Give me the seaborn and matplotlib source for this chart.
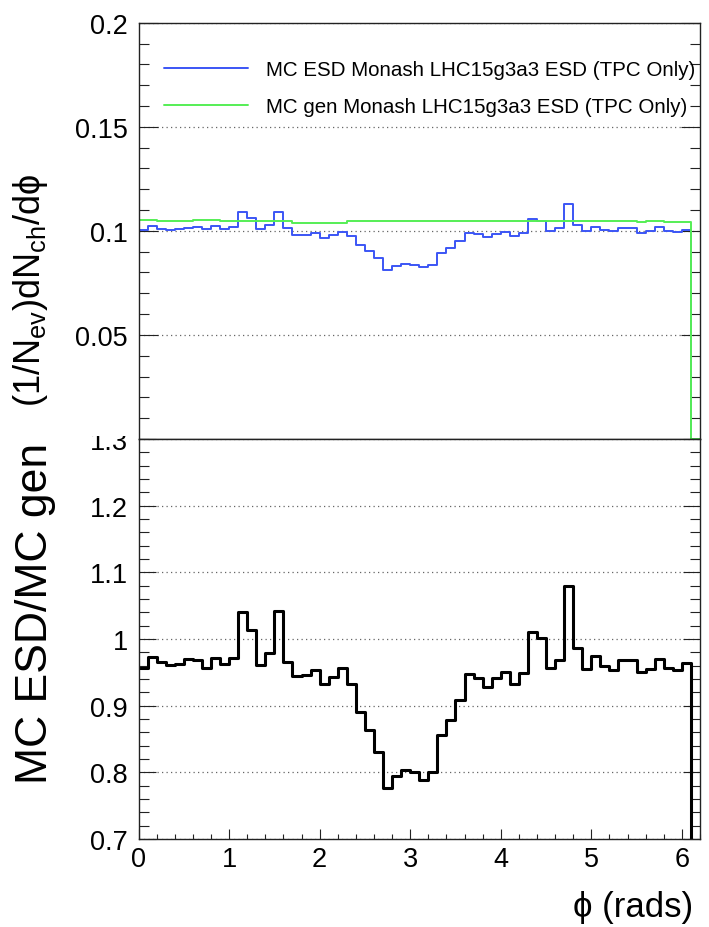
import numpy as np
import pandas as pd
import matplotlib
matplotlib.use("Agg")
import matplotlib.pyplot as plt
import seaborn as sns
from matplotlib.ticker import FixedLocator, MultipleLocator
from matplotlib.lines import Line2D
from matplotlib.transforms import Bbox, TransformedBbox

# ---- binning: 62 bins of 0.1 rad on [0, 6.2] ----
n_bins = 62
phi_lo, phi_hi = 0.0, 6.2

# per-event normalised dN/dphi, generator level
mc_gen = [
    0.1051, 0.1051, 0.1047, 0.1047, 0.1047, 0.1047, 0.1054, 0.1054, 0.1054, 0.1048,
    0.1048, 0.1048, 0.1048, 0.1048, 0.1048, 0.1048, 0.1048, 0.1038, 0.1038, 0.1038,
    0.1038, 0.1038, 0.1038, 0.1046, 0.1046, 0.1046, 0.1046, 0.1046, 0.1046, 0.1046,
    0.1046, 0.1045, 0.1045, 0.1045, 0.1045, 0.1045, 0.1045, 0.1045, 0.1045, 0.1045,
    0.1045, 0.1045, 0.1045, 0.1045, 0.1045, 0.1045, 0.1045, 0.1045, 0.1045, 0.1045,
    0.1048, 0.1048, 0.1048, 0.1048, 0.1048, 0.1042, 0.1048, 0.1048, 0.1042, 0.1042,
    0.1042, 0.0,
]

# per-event normalised dN/dphi, reconstructed (ESD, TPC only tracks)
mc_esd = [
    0.10058, 0.10226, 0.10104, 0.10062, 0.10083, 0.10156, 0.10203, 0.10076, 0.10245, 0.10092,
    0.10176, 0.10910, 0.10627, 0.10071, 0.10260, 0.10920, 0.10113, 0.09799, 0.09819, 0.09892,
    0.09674, 0.09788, 0.09923, 0.09749, 0.09320, 0.09027, 0.08692, 0.08127, 0.08316, 0.08399,
    0.08368, 0.08245, 0.08360, 0.08945, 0.09175, 0.09499, 0.09907, 0.09833, 0.09698, 0.09844,
    0.09928, 0.09750, 0.09917, 0.10555, 0.10471, 0.09990, 0.10126, 0.11286, 0.10304, 0.09980,
    0.10208, 0.10050, 0.09998, 0.10145, 0.10155, 0.09899, 0.10008, 0.10166, 0.09972, 0.09930,
    0.10045, 0.0,
]

# ESD / gen ratio
ratio = [
    0.957, 0.973, 0.965, 0.961, 0.963, 0.970, 0.968, 0.956, 0.972, 0.963,
    0.971, 1.041, 1.014, 0.961, 0.979, 1.042, 0.965, 0.944, 0.946, 0.953,
    0.932, 0.943, 0.956, 0.932, 0.891, 0.863, 0.831, 0.777, 0.795, 0.803,
    0.800, 0.789, 0.800, 0.856, 0.878, 0.909, 0.948, 0.941, 0.928, 0.942,
    0.950, 0.933, 0.949, 1.010, 1.002, 0.956, 0.969, 1.080, 0.986, 0.955,
    0.974, 0.959, 0.954, 0.968, 0.969, 0.950, 0.955, 0.970, 0.957, 0.953,
    0.964, 0.0,
]

series_labels = [
    "MC ESD Monash LHC15g3a3 ESD (TPC Only)",
    "MC gen Monash LHC15g3a3 ESD (TPC Only)",
]

x_ticks = [0, 1, 2, 3, 4, 5, 6]
x_tick_labels = ["0", "1", "2", "3", "4", "5", "6"]
top_ticks = [0.05, 0.1, 0.15, 0.2]
top_tick_labels = ["0.05", "0.1", "0.15", "0.2"]
bot_ticks = [0.7, 0.8, 0.9, 1.0, 1.1, 1.2, 1.3]
bot_tick_labels = ["0.7", "0.8", "0.9", "1", "1.1", "1.2", "1.3"]

BLUE = "#3b55f5"
GREEN = "#55ee55"

sns.set_theme(style="ticks")
plt.rcParams["font.family"] = ["Liberation Sans", "DejaVu Sans"]
plt.rcParams["mathtext.fontset"] = "custom"
plt.rcParams["mathtext.rm"] = "Liberation Sans"
plt.rcParams["mathtext.it"] = "Liberation Sans:italic"
plt.rcParams["mathtext.bf"] = "Liberation Sans:bold"
plt.rcParams["text.color"] = "black"
plt.rcParams["axes.labelcolor"] = "black"
plt.rcParams["legend.labelcolor"] = "black"

W, H = 709, 928
fig = plt.figure(figsize=(W / 100, H / 100), dpi=100)
fig.patch.set_facecolor("white")


def px_box(x0, y0, x1, y1):
    """Axes rectangle given in pixel coordinates measured from the top-left."""
    return [x0 / W, 1 - y1 / H, (x1 - x0) / W, (y1 - y0) / H]


ax_top = fig.add_axes(px_box(138.5, 23.7, 700, 440))
ax_bot = fig.add_axes(px_box(138.5, 440, 700, 840))

edges = np.linspace(phi_lo, phi_hi, n_bins + 1)
centers = 0.5 * (edges[:-1] + edges[1:])
df = pd.DataFrame({"phi": centers, "esd": mc_esd, "gen": mc_gen, "ratio": ratio})

hist_kws = dict(data=df, x="phi", bins=n_bins, binrange=(phi_lo, phi_hi),
                element="step", fill=False)

# upper pad: the two distributions as step outlines
sns.histplot(weights="esd", color=BLUE, linewidth=1.4, ax=ax_top, **hist_kws)
sns.histplot(weights="gen", color=GREEN, linewidth=1.4, ax=ax_top, **hist_kws)

# lower pad: ratio
sns.histplot(weights="ratio", color="black", linewidth=2.2, ax=ax_bot, **hist_kws)

grid_style = dict(axis="y", which="major", linestyle=(0, (1, 2.6)),
                  color="#666666", linewidth=0.9)

for ax in (ax_top, ax_bot):
    ax.set_xlim(phi_lo, phi_hi)
    ax.set_xlabel("")
    ax.set_ylabel("")
    ax.set_facecolor("white")
    for sp in ax.spines.values():
        sp.set_visible(True)
        sp.set_linewidth(1.0)
        sp.set_color("#222222")
    ax.grid(**grid_style)
    ax.set_axisbelow(True)

# upper pad axes
ax_top.set_ylim(0, 0.2)
ax_top.yaxis.set_major_locator(FixedLocator(top_ticks))
ax_top.set_yticklabels(top_tick_labels)
ax_top.yaxis.set_minor_locator(MultipleLocator(0.01))
ax_top.tick_params(axis="y", which="both", direction="in", left=True, right=True,
                   labelsize=19.5, pad=7.5, width=0.8, colors="#222222", labelcolor="black")
ax_top.tick_params(axis="y", which="major", length=14)
ax_top.tick_params(axis="y", which="minor", length=7.2)
ax_top.tick_params(axis="x", which="both", bottom=False, top=False, labelbottom=False)

# lower pad axes
ax_bot.set_ylim(0.7, 1.3)
ax_bot.yaxis.set_major_locator(FixedLocator(bot_ticks))
ax_bot.set_yticklabels(bot_tick_labels)
ax_bot.yaxis.set_minor_locator(MultipleLocator(0.02))
ax_bot.set_xticks(x_ticks)
ax_bot.set_xticklabels(x_tick_labels)
ax_bot.xaxis.set_minor_locator(MultipleLocator(0.2))
ax_bot.tick_params(axis="y", which="both", direction="in", left=True, right=True,
                   labelsize=19.5, pad=7.5, width=0.8, colors="#222222", labelcolor="black")
ax_bot.tick_params(axis="y", which="major", length=12.2)
ax_bot.tick_params(axis="y", which="minor", length=7.2)
ax_bot.tick_params(axis="x", which="both", direction="in", bottom=True, top=False,
                   labelsize=19.5, pad=5, width=0.8, colors="#222222", labelcolor="black")
ax_bot.tick_params(axis="x", which="major", length=7.2)
ax_bot.tick_params(axis="x", which="minor", length=3.6)

# legend
handles = [Line2D([], [], color=BLUE, linewidth=1.4),
           Line2D([], [], color=GREEN, linewidth=1.4)]
ax_top.legend(handles, series_labels, loc="upper left", bbox_to_anchor=(0.0454, 0.910),
              frameon=False, fontsize=14.8, handlelength=4.08, handletextpad=0.87,
              labelspacing=0.87, borderpad=0, borderaxespad=0, labelcolor="black")

# axis titles
fig.text(31 / W, 1 - 290 / H, r"$\mathregular{(1/N_{ev})dN_{ch}/d\phi}$",
         rotation=90, ha="center", va="center", fontsize=26, color="black")
fig.text(36 / W, 1 - 613 / H, "MC ESD/MC gen",
         rotation=90, ha="center", va="center", fontsize=32, color="black")
fig.text(693 / W, 1 - 908 / H, "ϕ (rads)", ha="right", va="center", fontsize=25,
         color="black")

# the upper pad hides the top part of the "1.3" label
fig.canvas.draw()
for lab in ax_bot.get_yticklabels():
    if lab.get_text() == "1.3":
        lab.set_clip_box(TransformedBbox(Bbox.from_extents(0, 0, 1, 1 - 437 / H),
                                         fig.transFigure))
        lab.set_clip_on(True)

fig.savefig("out.png", dpi=100, facecolor="white")
